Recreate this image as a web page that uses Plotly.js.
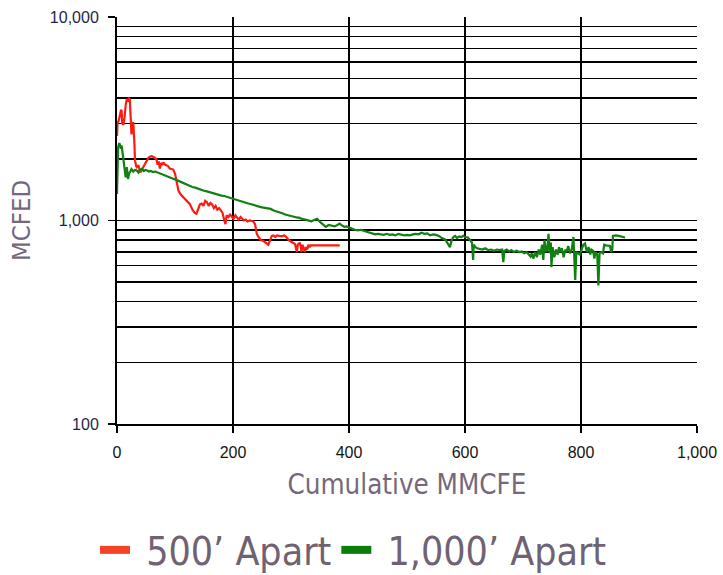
<!DOCTYPE html>
<html>
<head>
<meta charset="utf-8">
<script src="https://cdn.plot.ly/plotly-3.0.1.min.js"></script>
<style>
  html, body { margin: 0; padding: 0; background: #fff; }
  #chart { width: 723px; height: 575px; }
</style>
</head>
<body>
<div id="chart"></div>
<script>
// Rate vs cumulative production for two well spacings
const seriesNames = ['500\u2019 Apart', '1,000\u2019 Apart'];

const cum500 = [0, 1, 3, 5, 7, 8, 9, 11, 13, 15, 17, 19, 21, 22, 24, 25, 26, 28, 30, 31, 33, 34, 37, 40, 42, 45, 48, 51, 54, 57,
  60, 63, 66, 68, 70, 72, 74, 76, 78, 80, 83, 86, 88, 91, 94, 97, 100, 103, 106, 110, 114, 118, 122, 126, 130, 134, 137, 140, 143, 146,
  149, 152, 155, 158, 161, 164, 167, 170, 173, 176, 179, 182, 185, 187, 189, 192, 195, 198, 201, 204, 207, 210, 213, 216, 219, 222, 225, 229, 232, 235,
  238, 241, 244, 248, 252, 256, 259, 261, 264, 267, 270, 273, 276, 280, 284, 288, 292, 296, 300, 304, 307, 310, 312, 313, 315, 317, 318, 320, 322, 324,
  326, 328, 330, 332, 334, 336, 384];
const rate500 = [2600, 3000, 3100, 3300, 3500, 3450, 3000, 2950, 3200, 3700, 3950, 3900, 3980, 3950, 3100, 2650, 2900, 3050, 2400, 1980, 1850, 1830, 1870, 1720, 1760, 1830, 1900, 1980, 2030, 2060,
  2070, 2050, 2020, 2000, 1880, 1950, 1800, 1920, 1870, 1930, 1880, 1860, 1850, 1800, 1790, 1780, 1700, 1570, 1400, 1340, 1300, 1260, 1230, 1200, 1130, 1090, 1080, 1150, 1200, 1210,
  1180, 1250, 1230, 1180, 1220, 1200, 1150, 1180, 1130, 1150, 1110, 1090, 1000, 960, 1060, 1040, 1070, 1050, 1020, 1060, 1030, 1010, 1040, 1020, 1000, 1010, 990, 1000, 995, 990,
  960, 860, 830, 800, 795, 780, 775, 760, 800, 840, 845, 830, 845, 840, 835, 845, 830, 800, 790, 775, 765, 700, 770, 760, 780, 745, 700, 760, 730, 700,
  740, 720, 760, 740, 755, 755, 755];

const cum1000 = [0, 1, 2, 4, 6, 8, 10, 11, 13, 15, 17, 19, 21, 23, 25, 28, 31, 34, 37, 40, 43, 46, 49, 52, 55, 58, 62, 66, 70, 74,
  78, 82, 86, 90, 95, 100, 105, 110, 115, 120, 125, 130, 135, 140, 145, 150, 155, 160, 165, 170, 175, 180, 185, 190, 195, 200, 205, 210, 215, 220,
  225, 230, 235, 240, 245, 250, 255, 260, 265, 270, 275, 280, 285, 290, 295, 300, 305, 310, 315, 320, 325, 330, 335, 340, 345, 350, 355, 360, 365, 370,
  375, 380, 384, 388, 392, 396, 400, 405, 410, 415, 420, 425, 430, 435, 440, 445, 450, 455, 460, 465, 470, 475, 480, 485, 490, 495, 500, 505, 510, 515,
  520, 525, 530, 535, 540, 545, 550, 555, 560, 565, 568, 572, 574, 577, 580, 583, 586, 590, 594, 597, 600, 605, 609, 612, 614, 615, 618, 621, 625, 630,
  635, 640, 645, 650, 655, 660, 664, 666, 668, 672, 676, 680, 684, 689, 694, 698, 702, 706, 710, 713, 715, 718, 721, 724, 727, 730, 733, 735, 737, 740,
  742, 744, 746, 748, 749, 751, 754, 757, 760, 762, 764, 767, 770, 773, 775, 778, 781, 784, 787, 789, 790, 792, 795, 798, 801, 804, 807, 810, 813, 816,
  818, 821, 823, 825, 828, 830, 832, 835, 838, 840, 843, 847, 850, 852, 854, 855, 860, 865, 870, 876];
const rate1000 = [1350, 1700, 2290, 2400, 2300, 2330, 2100, 1970, 1750, 1630, 1830, 1600, 1700, 1760, 1790, 1740, 1770, 1760, 1720, 1780, 1795, 1750, 1770, 1760, 1740, 1750, 1730, 1740, 1720, 1700,
  1680, 1660, 1650, 1630, 1610, 1590, 1570, 1545, 1530, 1510, 1480, 1460, 1450, 1430, 1420, 1400, 1390, 1375, 1360, 1350, 1340, 1325, 1320, 1305, 1300, 1280, 1265, 1250, 1240, 1225,
  1215, 1205, 1190, 1180, 1170, 1160, 1150, 1140, 1140, 1120, 1110, 1100, 1085, 1070, 1060, 1050, 1040, 1035, 1030, 1015, 1010, 1000, 990, 1005, 1020, 985, 960, 930, 950, 940,
  935, 950, 965, 945, 930, 935, 925, 905, 900, 895, 900, 890, 880, 870, 860, 855, 860, 855, 850, 860, 850, 855, 845, 860, 850, 845, 850, 845, 855, 860,
  855, 870, 860, 865, 845, 855, 850, 840, 820, 810, 790, 760, 740, 800, 830, 840, 820, 835, 830, 840, 830, 825, 800, 780, 640, 760, 740, 730, 725, 720,
  730, 715, 720, 710, 720, 715, 720, 625, 710, 720, 705, 715, 700, 710, 700, 705, 690, 700, 680, 665, 690, 650, 700, 660, 720, 680, 760, 640, 800, 700,
  720, 860, 690, 780, 590, 740, 660, 720, 680, 740, 700, 730, 660, 720, 700, 750, 690, 720, 830, 650, 510, 700, 690, 680, 720, 760, 770, 700, 740, 680,
  720, 710, 650, 700, 680, 480, 690, 700, 690, 760, 755, 755, 750, 700, 720, 840, 845, 840, 835, 825];

const xTickVals = [0, 200, 400, 600, 800, 1000];
const xTickText = ['0', '200', '400', '600', '800', '1,000'];
const yTickVals = [100, 1000, 10000];
const yTickText = ['100', '1,000', '10,000'];
// gridlines between the decades
const yMinorVals = [200, 300, 400, 500, 600, 700, 800, 900, 2000, 3000, 4000, 5000, 6000, 7000, 8000, 9000];

const lineRed = '#ff1a10';
const lineGreen = '#108010';
const swatchRed = '#f44326';
const swatchGreen = '#0b7d0b';
const titleGrey = '#76687a';

const traces = [
  { x: cum500, y: rate500, type: 'scatter', mode: 'lines', name: seriesNames[0],
    line: { color: lineRed, width: 2.2 }, showlegend: false, legendgroup: 'a', hoverinfo: 'x+y' },
  { x: cum1000, y: rate1000, type: 'scatter', mode: 'lines', name: seriesNames[1],
    line: { color: lineGreen, width: 2.2 }, showlegend: false, legendgroup: 'b', hoverinfo: 'x+y' },
  // legend swatches (thick bars)
  { x: [null], y: [null], type: 'scatter', mode: 'lines', name: '\u00a0' + seriesNames[0],
    line: { color: swatchRed, width: 8 }, legendgroup: 'a' },
  { x: [null], y: [null], type: 'scatter', mode: 'lines', name: '\u00a0' + seriesNames[1],
    line: { color: swatchGreen, width: 8 }, legendgroup: 'b' }
];

const layout = {
  width: 723, height: 575,
  margin: { l: 117, r: 26, t: 17, b: 151, autoexpand: false },
  paper_bgcolor: '#fff', plot_bgcolor: '#fff',
  font: { family: 'Liberation Sans, Arial, sans-serif' },
  xaxis: {
    range: [0, 1000], tickmode: 'array', tickvals: xTickVals, ticktext: xTickText,
    showline: true, linecolor: '#000', linewidth: 2, mirror: false,
    showgrid: true, gridcolor: '#000', gridwidth: 1.5, zeroline: false,
    ticks: 'outside', ticklen: 7, tickwidth: 1.5, tickcolor: '#000', ticklabelstandoff: 6,
    automargin: false,
    tickfont: { family: 'Liberation Sans, Arial, sans-serif', size: 16, color: '#141414' },
    title: { text: 'Cumulative MMCFE', standoff: 15,
      font: { family: 'DejaVu Sans Condensed, DejaVu Sans, sans-serif', size: 27.5, color: titleGrey } }
  },
  yaxis: {
    type: 'log', range: [2, 4], tickmode: 'array', tickvals: yTickVals, ticktext: yTickText,
    showline: true, linecolor: '#000', linewidth: 2,
    showgrid: true, gridcolor: '#000', gridwidth: 1.5, zeroline: false,
    ticks: 'outside', ticklen: 7, tickwidth: 1.5, tickcolor: '#000', ticklabelstandoff: 6,
    automargin: false,
    minor: { tickmode: 'array', tickvals: yMinorVals, showgrid: true, gridcolor: '#000', gridwidth: 1.5, ticks: '' },
    tickfont: { family: 'Liberation Sans, Arial, sans-serif', size: 16, color: '#1e2648' },
    title: { text: 'MCFED', standoff: 12,
      font: { family: 'DejaVu Sans Condensed, DejaVu Sans, sans-serif', size: 25.5, color: titleGrey } }
  },
  showlegend: true,
  legend: {
    orientation: 'h', xref: 'container', x: 95 / 723, xanchor: 'left',
    yref: 'container', y: 1 - 550 / 575, yanchor: 'middle',
    font: { family: 'DejaVu Sans Condensed, DejaVu Sans, sans-serif', size: 39, color: '#6f6272' },
    itemwidth: 30, tracegroupgap: 0, bgcolor: 'rgba(0,0,0,0)'
  }
};

Plotly.newPlot('chart', traces, layout, { displayModeBar: false, staticPlot: true });
</script>
</body>
</html>
